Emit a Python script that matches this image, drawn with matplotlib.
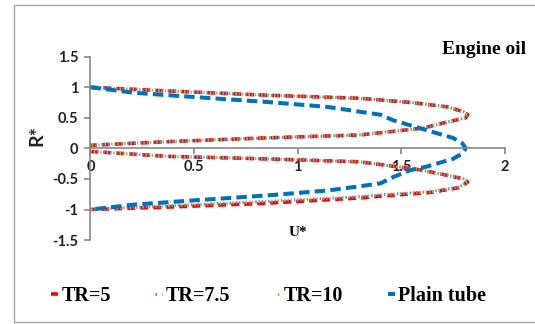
import numpy as np
import matplotlib.pyplot as plt
from matplotlib.patches import Rectangle

# Velocity profiles (U*, R*)
# twisted tape curves: upper loop and lower loop
tr_upper_u = [0.0, 0.37, 0.85, 1.30, 1.55, 1.72, 1.80, 1.82, 1.81, 1.72, 1.60, 1.30, 0.83, 0.37, 0.0]
tr_upper_r = [1.0, 0.94, 0.87, 0.82, 0.75, 0.68, 0.60, 0.55, 0.50, 0.43, 0.33, 0.22, 0.17, 0.11, 0.05]
tr_lower_u = [0.0, 0.37, 0.83, 1.30, 1.59, 1.72, 1.80, 1.82, 1.78, 1.64, 1.40, 1.30, 0.83, 0.37, 0.0]
tr_lower_r = [-0.05, -0.13, -0.17, -0.22, -0.35, -0.44, -0.50, -0.55, -0.63, -0.71, -0.76, -0.79, -0.87, -0.94, -1.0]
# TR=5 sits a little lower near the wall on the bottom branch
tr5_lower_r = [-0.05, -0.13, -0.17, -0.22, -0.35, -0.44, -0.50, -0.55, -0.64, -0.72, -0.78, -0.81, -0.90, -0.96, -1.0]

plain_u = [0.0, 0.21, 0.50, 0.85, 1.14, 1.30, 1.40, 1.46, 1.62, 1.75, 1.795, 1.81,
           1.795, 1.75, 1.62, 1.54, 1.46, 1.40, 1.30, 1.14, 0.85, 0.50, 0.21, 0.0]
plain_r = [1.0, 0.91, 0.84, 0.76, 0.68, 0.60, 0.55, 0.46, 0.30, 0.17, 0.08, 0.0,
           -0.08, -0.17, -0.30, -0.36, -0.47, -0.57, -0.62, -0.69, -0.77, -0.85, -0.92, -1.0]

labels = ["TR=5", "TR=7.5", "TR=10", "Plain tube"]
x_ticks = [0, 0.5, 1, 1.5, 2]
y_ticks = [-1.5, -1, -0.5, 0, 0.5, 1, 1.5]

fig = plt.figure(figsize=(5.35, 3.24), dpi=100)
ax = fig.add_axes([0.169, 0.259, 0.775, 0.566])

# chart area border
fig.patches.append(Rectangle((13.5 / 535, 2.5 / 324), 1.0, 317 / 324, transform=fig.transFigure,
                             fill=False, edgecolor="#a6a6a6", linewidth=1.0))

lw = 2.6
h1 = None
for part in range(2):
    u = tr_upper_u if part == 0 else tr_lower_u
    r = tr_upper_r if part == 0 else tr5_lower_r
    l1, = ax.plot(u, r, color="#ff0000", lw=lw, linestyle=(0, (2.2, 1.4)))
    r = tr_upper_r if part == 0 else tr_lower_r
    l2, = ax.plot(u, r, color="#4f9bd9", lw=lw * 0.85, linestyle=(0, (0.5, 1.6)))
    l3, = ax.plot(u, r, color="#9bbb59", lw=lw * 0.85, linestyle=(1.0, (0.5, 1.6)))
    if part == 0:
        h1 = (l1, l2, l3)
l4, = ax.plot(plain_u, plain_r, color="#0070c0", lw=2.9, linestyle=(0, (2.6, 1.3)))

ax.set_xlim(0, 2)
ax.set_ylim(-1.5, 1.5)
ax.set_xticks(x_ticks)
ax.set_yticks(y_ticks)
ax.set_xticklabels(["0", "0.5", "1", "1.5", "2"])
ax.set_yticklabels(["-1.5", "-1", "-0.5", "0", "0.5", "1", "1.5"])
ax.spines["left"].set_position(("data", 0))
ax.spines["bottom"].set_position(("data", 0))
ax.spines["top"].set_visible(False)
ax.spines["right"].set_visible(False)
for s in ("left", "bottom"):
    ax.spines[s].set_color("#868686")
    ax.spines[s].set_linewidth(1.2)
ax.tick_params(axis="both", direction="out", length=4.5, width=1.2, color="#868686",
               labelsize=10.5, labelcolor="#222222")
ax.tick_params(axis="x", pad=4)
ax.tick_params(axis="y", pad=4)
for t in ax.get_xticklabels() + ax.get_yticklabels():
    t.set_fontfamily("Lato")
    t.set_fontweight("bold")
ax.patch.set_alpha(0)

fig.text(37 / 535, 1 - 135 / 324, "R*", family="Lato", weight="bold", fontsize=14,
         rotation=90, ha="center", va="center", color="#222222")
fig.text(298 / 535, 1 - 233 / 324, "U*", family="Liberation Serif", weight="bold", fontsize=11,
         ha="center", va="center")
fig.text(526 / 535, 1 - 50 / 324, "Engine oil", family="Liberation Serif", weight="bold",
         fontsize=14, ha="right", va="center")

leg = fig.legend([h1[0], h1[1], h1[2], l4], labels, loc="center", bbox_to_anchor=(0.502, 0.086),
                 ncol=4, frameon=False, handlelength=0.35, handletextpad=0.15, columnspacing=2.2,
                 prop={"family": "Liberation Serif", "weight": "bold", "size": 14.5})

fig.savefig("out.png", dpi=100)
